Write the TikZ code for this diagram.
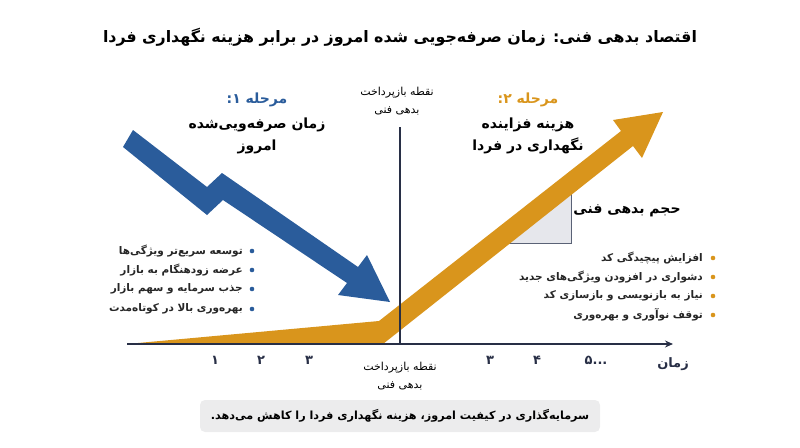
\documentclass[tikz,border=0pt]{standalone}
\usepackage{fontspec}
\newfontfamily\fa[Script=Arabic]{DejaVu Sans}
\TeXXeTstate=1
\usetikzlibrary{arrows.meta}
\definecolor{techblue}{RGB}{42,92,155}
\definecolor{techgold}{RGB}{217,149,28}
\definecolor{axisnavy}{RGB}{40,47,70}
\definecolor{debtgray}{RGB}{230,231,236}
\definecolor{debtedge}{RGB}{90,98,118}
\definecolor{notegray}{RGB}{236,236,237}
\tikzset{
  titletext/.style={font=\fa\bfseries\fontsize{15.8}{20}\selectfont, inner sep=0pt},
  phasetext/.style={font=\fa\bfseries\fontsize{14}{22}\selectfont, inner sep=0pt, align=center},
  listtext/.style={font=\fa\bfseries\fontsize{10.5}{12}\selectfont, inner sep=0pt, anchor=east, text=black!85},
  smalltext/.style={font=\fa\fontsize{11}{17.5}\selectfont, inner sep=0pt, align=center},
  ticktext/.style={font=\fa\bfseries\fontsize{13}{15}\selectfont, inner sep=0pt, text=axisnavy},
  axisline/.style={draw=axisnavy, line width=1.6pt}
}
\begin{document}
\begin{tikzpicture}[x=1pt,y=-1pt,>={Stealth[length=8pt,width=7pt]}]
\useasboundingbox (0,0) rectangle (800,447);
% debt triangle under the gold arrow
\fill[debtgray] (500,243) -- (571,243) -- (571,185) -- cycle;
\draw[debtedge, line width=1pt] (500,243) -- (571,243) -- (571,185);
% phase 2 arrow
\fill[techgold] (127,344) -- (379,321) -- (621,131) -- (613,120) -- (663,112)
  -- (642,158) -- (633,146) -- (383,344) -- cycle;
% phase 1 arrow
\fill[techblue] (133,130) -- (207,187) -- (222,173) -- (358,267) -- (367,255)
  -- (390,302) -- (338,295) -- (347,283) -- (223,200) -- (207,215) -- (123,147) -- cycle;
% axes
\coordinate (V0) at (400,127);
\coordinate (V1) at (400,344);
\draw[axisline, line width=1.3pt] (V0) -- (V1);
\coordinate (A0) at (127,344);
\coordinate (A1) at (673,344);
\draw[axisline,->] (A0) -- (A1);

\node[titletext] (T) at (400,37) {\beginR اقتصاد بدهی فنی: زمان صرفه‌جویی شده امروز در برابر هزینه نگهداری فردا\endR};
\node[smalltext] (B0) at (397,101) {\beginR نقطه بازپرداخت\endR\\\beginR بدهی فنی\endR};
\node[smalltext] (B1) at (400,376) {\beginR نقطه بازپرداخت\endR\\\beginR بدهی فنی\endR};

\node[phasetext, text=techblue] (S1) at (257,100) {\beginR مرحله ۱:\endR};
\node[phasetext] (S1t) at (257,136) {\beginR زمان صرفه‌ویی‌شده\endR\\\beginR امروز\endR};
\node[phasetext, text=techgold] (S2) at (528,100) {\beginR مرحله ۲:\endR};
\node[phasetext] (S2t) at (528,136) {\beginR هزینه فزاینده\endR\\\beginR نگهداری در فردا\endR};
\node[phasetext] (D) at (627,211) {\beginR حجم بدهی فنی\endR};

% phase 1 list
\node[listtext] (L1) at (243,251) {\beginR توسعه سریع‌تر ویژگی‌ها\endR};
\node[listtext] (L2) at (243,270) {\beginR عرضه زودهنگام به بازار\endR};
\node[listtext] (L3) at (243,289) {\beginR جذب سرمایه و سهم بازار\endR};
\node[listtext] (L4) at (243,309) {\beginR بهره‌وری بالا در کوتاه‌مدت\endR};
\fill[techblue] (252,251) circle (2.3) (252,270) circle (2.3) (252,289) circle (2.3) (252,309) circle (2.3);
% phase 2 list
\node[listtext] (R1) at (703,258) {\beginR افزایش پیچیدگی کد\endR};
\node[listtext] (R2) at (703,277) {\beginR دشواری در افزودن ویژگی‌های جدید\endR};
\node[listtext] (R3) at (703,296) {\beginR نیاز به بازنویسی و بازسازی کد\endR};
\node[listtext] (R4) at (703,315) {\beginR توقف نوآوری و بهره‌وری\endR};
\fill[techgold] (713,258) circle (2.3) (713,277) circle (2.3) (713,296) circle (2.3) (713,315) circle (2.3);

% time ticks
\node[ticktext] (K1) at (215,360) {۱};
\node[ticktext] (K2) at (261,360) {۲};
\node[ticktext] (K3) at (309,360) {۳};
\node[ticktext] (K4) at (490,360) {۳};
\node[ticktext] (K5) at (537,360) {۴};
\node[ticktext] (K6) at (596,360) {...۵};
\node[ticktext] (Z) at (673,364) {\beginR زمان\endR};

\node[fill=notegray, rounded corners=5pt, minimum width=400pt, minimum height=32pt,
  font=\fa\bfseries\fontsize{11.2}{12}\selectfont] (N) at (400,416)
  {\beginR سرمایه‌گذاری در کیفیت امروز، هزینه نگهداری فردا را کاهش می‌دهد.\endR};
\end{tikzpicture}
\end{document}
